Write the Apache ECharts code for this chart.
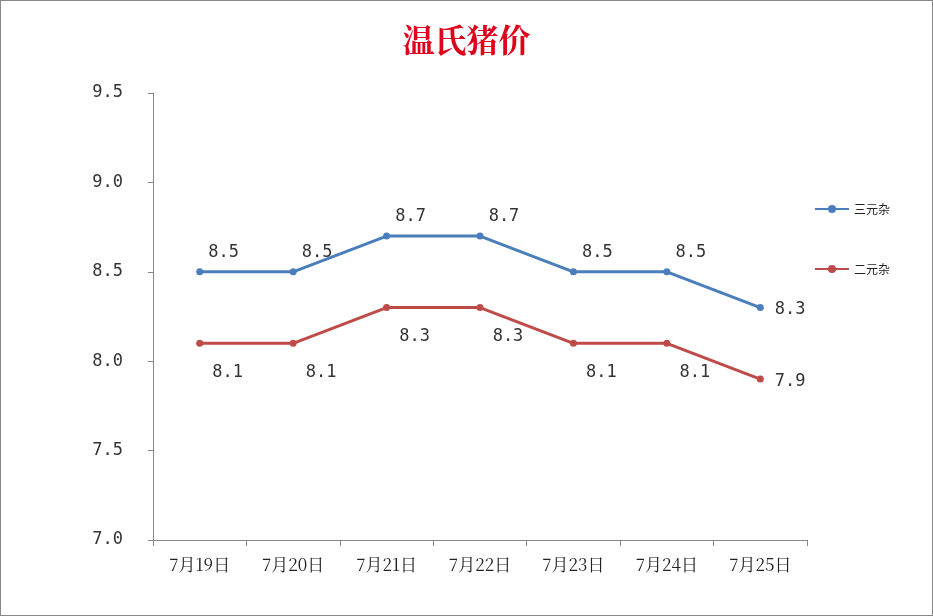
<!DOCTYPE html>
<html><head><meta charset="utf-8">
<script src="https://cdn.jsdelivr.net/npm/echarts@6/dist/echarts.min.js"></script>
<style>html,body{margin:0;padding:0;background:#fff}#main{width:933px;height:616px;box-sizing:border-box;border:1px solid #888}</style>
</head><body><div id="main"></div>
<script>
var dates = ['7月19日', '7月20日', '7月21日', '7月22日', '7月23日', '7月24日', '7月25日'];
var sanYuan = [8.5, 8.5, 8.7, 8.7, 8.5, 8.5, 8.3];
var erYuan = [8.1, 8.1, 8.3, 8.3, 8.1, 8.1, 7.9];

var myChart = echarts.init(document.getElementById('main'));
var labelFont = { fontFamily: 'DejaVu Sans Mono', fontSize: 17, color: '#333' };
function fmt(p) { return p.value.toFixed(1); }
function withLastRight(arr) {
    return arr.map(function (v, i) {
        if (i === arr.length - 1) {
            return { value: v, label: { position: 'right', offset: [6, 2] } };
        }
        return v;
    });
}
option = {
    backgroundColor: '#fff',
    title: {
        text: '温氏猪价', left: 'center', top: 18,
        textStyle: { color: '#e0001b', fontSize: 32, fontWeight: 'bold', fontFamily: 'Noto Serif CJK SC, Noto Sans CJK SC' }
    },
    legend: {
        orient: 'vertical', left: 808, top: 197, itemGap: 48,
        itemWidth: 34, itemHeight: 10,
        textStyle: { fontSize: 12, color: '#222', fontFamily: 'Noto Sans CJK SC' },
        data: ['三元杂', '二元杂']
    },
    grid: { left: 152, right: 125, top: 92, bottom: 75 },
    xAxis: {
        type: 'category', data: dates, boundaryGap: true,
        axisLine: { lineStyle: { color: '#888' } },
        axisTick: { show: true, interval: 0, length: 6, lineStyle: { color: '#888' } },
        axisLabel: { color: '#222', fontSize: 17, margin: 16, fontFamily: 'Noto Serif CJK SC, Noto Sans CJK SC' }
    },
    yAxis: {
        type: 'value', min: 7.0, max: 9.5, interval: 0.5,
        axisLine: { show: true, lineStyle: { color: '#888' } },
        axisTick: { show: true, length: 5, lineStyle: { color: '#888' } },
        splitLine: { show: false },
        axisLabel: { color: '#333', fontSize: 17, margin: 30, fontFamily: 'DejaVu Sans Mono',
            formatter: function (v) { return v.toFixed(1); } }
    },
    series: [
        {
            name: '三元杂', type: 'line', data: withLastRight(sanYuan), symbol: 'circle', symbolSize: 7,
            itemStyle: { color: '#4a7ebb' }, lineStyle: { width: 3, color: '#4a7ebb' },
            label: Object.assign({ show: true, position: 'top', offset: [24, -2], formatter: fmt }, labelFont)
        },
        {
            name: '二元杂', type: 'line', data: withLastRight(erYuan), symbol: 'circle', symbolSize: 7,
            itemStyle: { color: '#be4b48' }, lineStyle: { width: 3, color: '#be4b48' },
            label: Object.assign({ show: true, position: 'bottom', offset: [28, 12], formatter: fmt }, labelFont)
        }
    ]
};
myChart.setOption(option);
</script></body></html>
